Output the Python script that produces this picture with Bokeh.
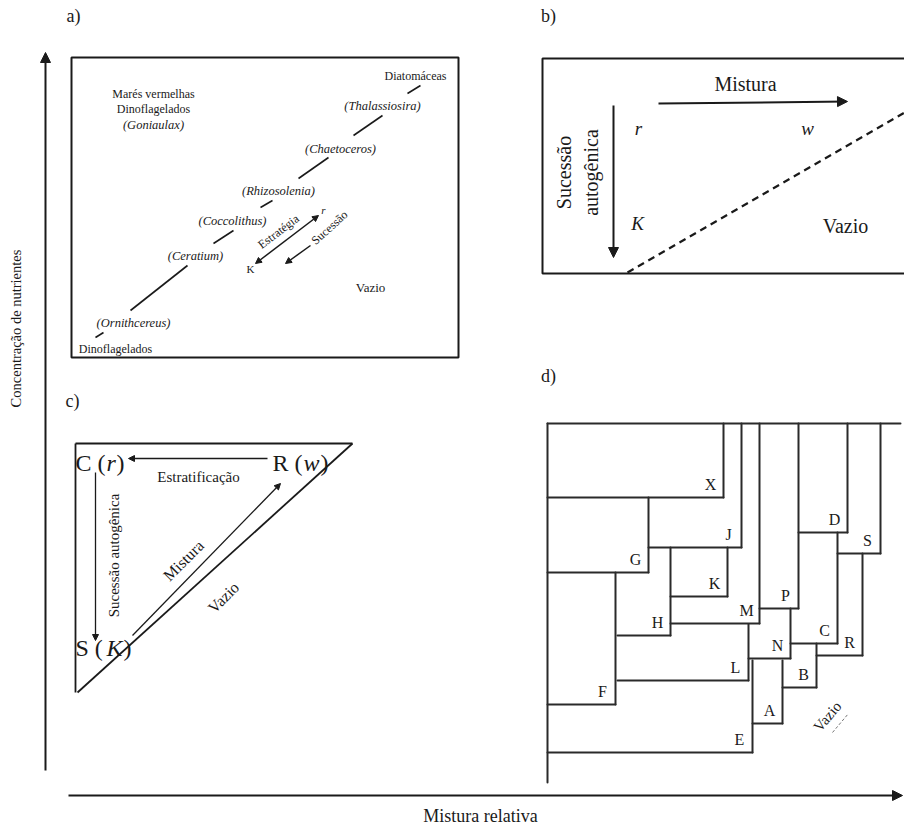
import math
from bokeh.plotting import figure
from bokeh.models import Range1d, Arrow, NormalHead, ColumnDataSource
from bokeh.core.properties import value
from bokeh.embed import file_html
from bokeh.resources import INLINE

SERIF = value("Liberation Serif")
NARROW = value("Liberation Sans Narrow")
INK = "#1a1a1a"

# ---------------- data (diagram units = page pixels) ----------------
# panel letters
panel_text = ["a)", "b)", "c)", "d)"]
panel_x = [73, 548, 72, 548]
panel_y = [15, 15, 400, 375]

# global axes
axis_titles = ["Concentração de nutrientes", "Mistura relativa"]

# panel a
a_text = ["Diatomáceas", "Marés vermelhas", "Dinoflagelados", "Dinoflagelados", "Vazio"]
a_tx = [415, 153, 153, 115, 370]
a_ty = [75, 93, 108, 348, 287]
a_species = ["(Goniaulax)", "(Thalassiosira)", "(Chaetoceros)", "(Rhizosolenia)",
             "(Coccolithus)", "(Ceratium)", "(Ornithcereus)"]
a_sx = [153, 382, 340, 278, 232, 195, 133]
a_sy = [124, 105, 148, 190, 220, 255, 322]
a_seg_x0 = [95, 130, 213, 260, 298, 353, 407]
a_seg_y0 = [337, 310, 243, 207, 178, 135, 93]
a_seg_x1 = [103, 187, 233, 272, 328, 382, 420]
a_seg_y1 = [332, 265, 230, 200, 157, 115, 85]

# panel b
b_text = ["Mistura", "Vazio"]
b_tx = [745, 845]
b_ty = [83, 225]
b_ital = ["r", "w", "K"]
b_ix = [638, 807, 637]
b_iy = [128, 128, 223]
b_rot = ["Sucessão", "autogênica"]
b_rx = [563, 590]
b_ry = [172, 172]

# panel c
c_corner = ["C (", "R (", "S ("]
c_corner_ital = ["r", "w", "K"]
c_cx = [75, 272, 75]
c_cy = [462, 462, 647]
c_text = ["Estratificação"]
c_diag = ["Mistura", "Vazio"]
c_dx = [183, 223]
c_dy = [560, 597]

# panel d : each assemblage is an L-shaped line: vertical at x from top to bot, then left to xl
d_label = ["X", "J", "G", "K", "M", "H", "F", "L", "E", "P", "N", "A", "D", "C", "B", "S", "R"]
d_x = [723, 741, 648, 727, 759, 670, 615, 748, 752, 798, 790, 782, 847, 837, 816, 880, 862]
d_top = [423, 423, 497, 547, 423, 547, 572, 624, 660, 423, 608, 660, 423, 532, 643, 423, 553]
d_bot = [497, 547, 572, 596, 623, 635, 704, 680, 752, 608, 658, 723, 532, 643, 687, 553, 655]
d_left = [547, 648, 547, 670, 670, 617, 547, 617, 547, 759, 748, 752, 798, 790, 782, 837, 816]

# ---------------- figure ----------------
W, H = 904, 825
p = figure(width=W, height=H, x_range=Range1d(0, W), y_range=Range1d(H, 0),
           output_backend="svg", toolbar_location=None, min_border=0,
           x_axis_location=None, y_axis_location=None)
p.grid.visible = False
p.outline_line_color = None
p.background_fill_color = "white"
p.border_fill_color = "white"


def arrow(x0, y0, x1, y1, w=2, size=9, both=False):
    a = Arrow(x_start=x0, y_start=y0, x_end=x1, y_end=y1, line_width=w, line_color=INK,
              end=NormalHead(size=size, fill_color=INK, line_color=INK),
              start=NormalHead(size=size, fill_color=INK, line_color=INK) if both else None)
    p.add_layout(a)


def txt(xs, ys, texts, size, font=SERIF, style="normal", align="center", angle=0.0):
    src = ColumnDataSource(dict(x=xs, y=ys, t=texts))
    p.text(x="x", y="y", text="t", source=src, text_font=font, text_font_size=f"{size}px",
           text_font_style=style, text_align=align, text_baseline="middle",
           text_color=INK, angle=angle)


# panel letters
txt(panel_x, panel_y, panel_text, 18)

# global axes
arrow(45, 770, 45, 52, w=2, size=10)
arrow(68, 795, 902, 795, w=2, size=10)
txt([15], [328], [axis_titles[0]], 14.5, font=NARROW, angle=math.pi / 2)
txt([480], [815], [axis_titles[1]], 18)

# ---- panel a ----
p.quad(left=[71], right=[458], top=[57], bottom=[357], fill_color=None, line_color=INK, line_width=2)
txt(a_tx[:4], a_ty[:4], a_text[:4], 12)
txt(a_tx[4:], a_ty[4:], a_text[4:], 13)
txt(a_sx, a_sy, a_species, 12.5, style="italic")
p.segment(a_seg_x0, a_seg_y0, a_seg_x1, a_seg_y1, line_color=INK, line_width=1.6)
arrow(255, 263, 318, 215, w=1.5, size=6, both=True)
arrow(310, 245, 285, 263, w=1.5, size=6)
txt([278], [231], ["Estratégia"], 12, angle=math.radians(37))
txt([329], [227], ["Sucessão"], 12, angle=math.radians(42))
txt([323], [209], ["r"], 11, style="italic")
txt([250], [268], ["K"], 11)

# ---- panel b ----
p.quad(left=[542], right=[910], top=[58], bottom=[273], fill_color=None, line_color=INK, line_width=2)
arrow(658, 103, 847, 101, w=2, size=10)
arrow(613, 105, 613, 257, w=2, size=10)
txt(b_tx, b_ty, b_text, 20)
txt(b_ix, b_iy, b_ital, 19, style="italic")
txt(b_rx, b_ry, b_rot, 20, angle=math.pi / 2)
p.segment([627], [272], [906], [111], line_color=INK, line_width=2.2, line_dash="7 5")

# ---- panel c ----
p.segment([75, 75, 352], [443, 443, 443], [75, 352, 77], [692, 443, 692], line_color=INK, line_width=1.8)
arrow(267, 458, 128, 458, w=1.3, size=6)
arrow(95, 472, 95, 640, w=1.3, size=6)
arrow(132, 635, 280, 483, w=1.3, size=6)
for i in range(3):
    txt([c_cx[i]], [c_cy[i]], [c_corner[i]], 24, align="left")
    txt([c_cx[i] + 31], [c_cy[i]], [c_corner_ital[i]], 24, style="italic", align="left")
txt([c_cx[0] + 41], [c_cy[0]], [")"], 24, align="left")
txt([c_cx[1] + 48], [c_cy[1]], [")"], 24, align="left")
txt([c_cx[2] + 48], [c_cy[2]], [")"], 24, align="left")
txt([198], [476], c_text, 15)
txt([113], [555], ["Sucessão autogênica"], 15, angle=math.pi / 2)
txt(c_dx, c_dy, c_diag, 16, angle=math.radians(45))

# ---- panel d ----
d_line_x0 = [547, 547] + d_x + d_x
d_line_y0 = [423, 423] + d_top + d_bot
d_line_x1 = [900, 547] + d_x + d_left
d_line_y1 = [423, 782] + d_bot + d_bot
p.segment(d_line_x0, d_line_y0, d_line_x1, d_line_y1, line_color="#2a2a2a", line_width=2, line_cap="round")
txt([x - 13 for x in d_x], [y - 13 for y in d_bot], d_label, 16)
txt([827], [716], ["Vazio"], 15, angle=math.radians(50))
p.segment([832], [732], [848], [713], line_color="#777777", line_width=1, line_dash="3 2")

open("out.html", "w").write(file_html(p, INLINE))
